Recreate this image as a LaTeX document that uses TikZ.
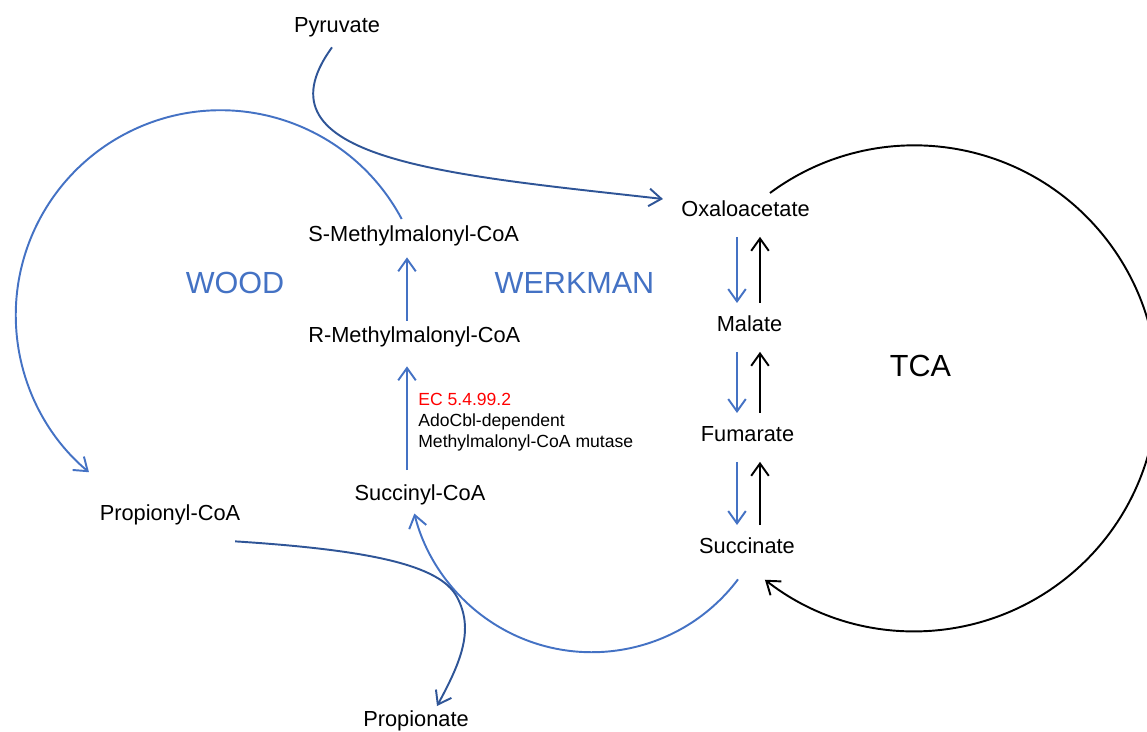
\documentclass[tikz,border=0pt]{standalone}
\usepackage{fontspec}
\setmainfont{Liberation Sans}
\usetikzlibrary{arrows.meta}
\definecolor{pathblue}{HTML}{4472C4}
\definecolor{darkblue}{HTML}{2F5597}
\definecolor{ecred}{HTML}{FF0000}
\begin{document}
\begin{tikzpicture}[
    x=0.02cm, y=0.02cm,
    % Стиль для метаболитов: просто текст, якорь по базовой линии
    metab/.style={inner sep=0pt, anchor=base, text height=0.72em, text depth=0.2em,
        font=\fontsize{12.4}{15}\selectfont},
    % Стиль для названий путей
    cyclename/.style={inner sep=0pt, anchor=base, font=\fontsize{17.4}{21}\selectfont},
    % Стиль для стрелок: линия с открытым наконечником
    edge/.style={line width=1.1pt, -{Straight Barb[length=7pt,width=10pt]}}
]

    \useasboundingbox (0,0) rectangle (1147,731);

    % --- Цикл TCA (столбец справа) ---
    \node[metab] (oxa) at (745.5, 514) {Oxaloacetate};
    \node[metab] (mal) at (749.5, 399) {Malate};
    \node[metab] (fum) at (747.5, 289) {Fumarate};
    \node[metab] (suc) at (747, 177) {Succinate};

    % --- Путь Вуда-Веркмана (столбец в центре) ---
    \node[metab, anchor=base west] (smm) at (308, 489) {S-Methylmalonyl-CoA};
    \node[metab, anchor=base west] (rmm) at (308, 388) {R-Methylmalonyl-CoA};
    \node[metab] (sco) at (420, 230) {Succinyl-CoA};

    % --- Вход и выход ---
    \node[metab] (pyr) at (337, 698) {Pyruvate};
    \node[metab] (pco) at (170, 210) {Propionyl-CoA};
    \node[metab] (ppa) at (416, 5) {Propionate};

    % --- Подписи ---
    \node[cyclename, pathblue] (wood) at (235, 437) {WOOD};
    \node[cyclename, pathblue] (werk) at (574.5, 437) {WERKMAN};
    \node[cyclename] (tca) at (920.5, 354) {TCA};
    \node[inner sep=0pt, anchor=north west, align=left, font=\fontsize{10}{11.9}\selectfont]
        (ec) at (418, 338) {\textcolor{ecred}{EC 5.4.99.2}\\AdoCbl-dependent\\Methylmalonyl-CoA mutase};

    % --- Вертикальные линии стрелок ---
    \coordinate (downline) at (737, 0);
    \coordinate (upline) at (760, 0);
    \coordinate (mmline) at (407, 0);

    % --- Синие стрелки вниз, черные вверх ---
    \draw[edge, pathblue, shorten <=0.32cm, shorten >=0.32cm] (oxa.south -| downline) -- (mal.north -| downline);
    \draw[edge, black, shorten <=0.32cm, shorten >=0.32cm] (mal.north -| upline) -- (oxa.south -| upline);
    \draw[edge, pathblue, shorten <=0.32cm, shorten >=0.32cm] (mal.south -| downline) -- (fum.north -| downline);
    \draw[edge, black, shorten <=0.32cm, shorten >=0.32cm] (fum.north -| upline) -- (mal.south -| upline);
    \draw[edge, pathblue, shorten <=0.32cm, shorten >=0.32cm] (fum.south -| downline) -- (suc.north -| downline);
    \draw[edge, black, shorten <=0.32cm, shorten >=0.32cm] (suc.north -| upline) -- (fum.south -| upline);

    % --- Мутаза и эпимераза ---
    \draw[edge, pathblue, shorten <=0.36cm, shorten >=0.39cm] (sco.north -| mmline) -- (rmm.south -| mmline);
    \draw[edge, pathblue, shorten <=0.18cm, shorten >=0.23cm] (rmm.north -| mmline) -- (smm.south -| mmline);

    % --- Дуги ---
    \draw[edge, black] ([xshift=0.49cm, yshift=0.22cm]oxa.north) arc[start angle=126.5, end angle=-128, radius=4.86cm];
    \draw[edge, pathblue] ([xshift=-0.24cm, yshift=0.2cm]smm.north) arc[start angle=28, end angle=230, radius=4.1cm];
    \draw[edge, pathblue] ([xshift=-0.18cm, yshift=-0.43cm]suc.south) arc[start angle=-37, end angle=-166, radius=3.66cm];

    % --- Пируват и пропионат ---
    \draw[edge, darkblue] ([xshift=-0.1cm, yshift=-0.21cm]pyr.south)
        .. controls (250, 571) and (450, 556) .. ([xshift=-0.36cm, yshift=0.1cm]oxa.north west);
    \draw[edge, darkblue] ([xshift=-0.11cm, yshift=-0.33cm]pco.south east)
        .. controls (370, 181) and (440, 166) .. (457, 134)
        .. controls (474, 102) and (462, 71) .. ([xshift=0.42cm, yshift=0.14cm]ppa.north);

\end{tikzpicture}
\end{document}
